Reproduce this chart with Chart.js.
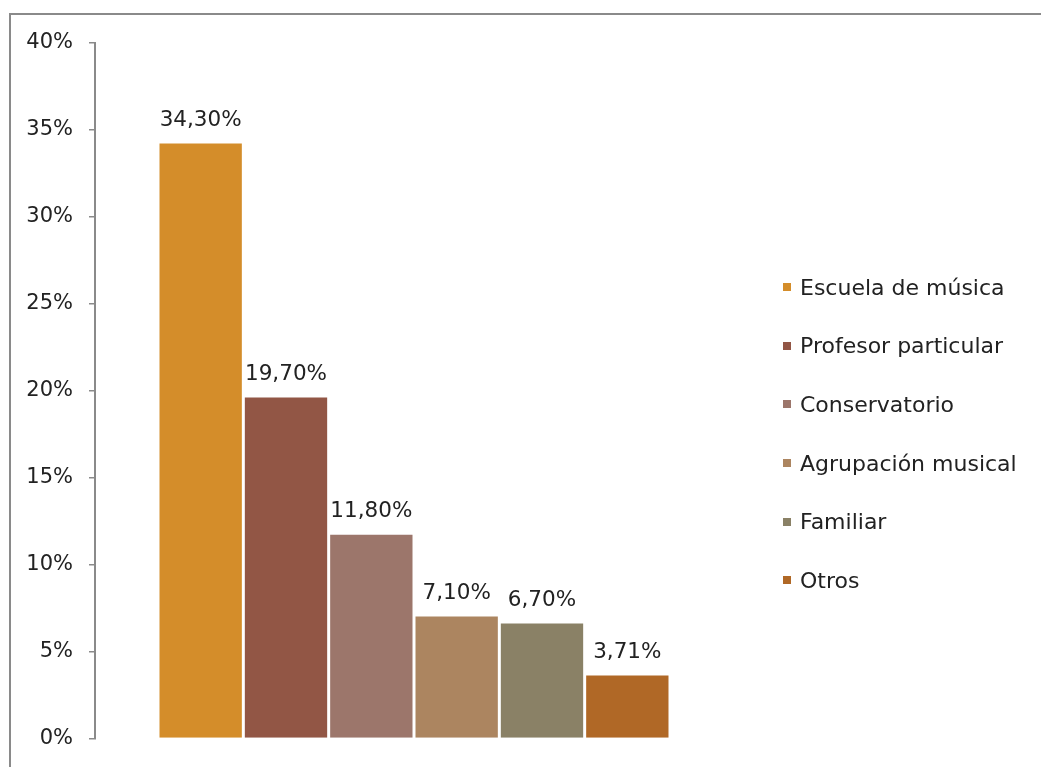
<!DOCTYPE html>
<html>
<head>
<meta charset="utf-8">
<title>Formación musical</title>
<script src="https://cdn.jsdelivr.net/npm/chart.js@4.4.1/dist/chart.umd.min.js"></script>
<style>
  html, body { margin: 0; padding: 0; background: #fff; overflow: hidden; }
  /* open frame: only top and left edges fall inside the window */
  #frame {
    position: absolute; left: 9px; top: 13px; width: 1200px; height: 900px;
    border-top: 2px solid #8a8a8a; border-left: 2px solid #8a8a8a;
  }
  #wrap { position: absolute; left: 0; top: 0; width: 1041px; height: 767px; }
  #legend {
    position: absolute; left: 783px; top: 258px; margin: 0; padding: 0; list-style: none;
    font-family: "DejaVu Sans", sans-serif; font-size: 22px; color: #222;
  }
  #legend li { display: flex; align-items: center; height: 58.6px; white-space: nowrap; }
  #legend .box { width: 8px; height: 8px; margin-right: 9px; flex: none; }
</style>
</head>
<body>
<div id="frame"></div>
<div id="wrap"><canvas id="barChart"></canvas></div>
<ul id="legend"></ul>
<script>
const categories = ["Escuela de música", "Profesor particular", "Conservatorio", "Agrupación musical", "Familiar", "Otros"];
const percentages = [34.30, 19.70, 11.80, 7.10, 6.70, 3.71];
const barColors = ["#d48d2a", "#925645", "#9c766b", "#ac8560", "#8a8166", "#b06826"];
const yMin = 0;
const yMax = 40;
const yStep = 5;

const textColor = "#222";
const axisColor = "#8a8a8a";
const fontFamily = '"DejaVu Sans", sans-serif';

Chart.defaults.font.family = fontFamily;

// 34.3 -> "34,30%"
const formatPct = (v) => v.toFixed(2).replace(".", ",") + "%";

// value printed above each bar
const valueLabels = {
  id: "valueLabels",
  afterDatasetsDraw(chart) {
    const ctx = chart.ctx;
    ctx.save();
    ctx.font = "21.5px " + fontFamily;
    ctx.fillStyle = textColor;
    ctx.textAlign = "center";
    ctx.textBaseline = "alphabetic";
    chart.data.datasets.forEach((ds, i) => {
      const bar = chart.getDatasetMeta(i).data[0];
      ctx.fillText(formatPct(ds.data[0]), bar.x, bar.y - 16);
    });
    ctx.restore();
  }
};

// legend list built from the chart's own legend items
const htmlLegend = {
  id: "htmlLegend",
  afterUpdate(chart) {
    const list = document.getElementById("legend");
    list.innerHTML = "";
    const items = chart.options.plugins.legend.labels.generateLabels(chart);
    items.forEach((item) => {
      const li = document.createElement("li");
      const box = document.createElement("span");
      box.className = "box";
      box.style.background = item.fillStyle;
      const text = document.createElement("span");
      text.textContent = item.text;
      li.appendChild(box);
      li.appendChild(text);
      list.appendChild(li);
    });
  }
};

const datasets = categories.map((name, i) => ({
  label: name,
  data: [percentages[i]],
  backgroundColor: barColors[i],
  borderColor: "#ffffff",
  borderWidth: 1.5
}));

const ctx = document.getElementById("barChart").getContext("2d");
new Chart(ctx, {
  type: "bar",
  data: { labels: [""], datasets },
  plugins: [valueLabels, htmlLegend],
  options: {
    responsive: true,
    maintainAspectRatio: false,
    animation: false,
    categoryPercentage: 0.8025,
    barPercentage: 1.0,
    layout: { padding: { left: 0, top: 43, right: 308, bottom: 24 } },
    scales: {
      x: { display: false },
      y: {
        min: yMin,
        max: yMax,
        ticks: {
          stepSize: yStep,
          padding: 16,
          color: textColor,
          font: { size: 21 },
          callback: (v) => v + "%"
        },
        grid: { display: true, drawOnChartArea: false, drawTicks: true, tickLength: 6, color: axisColor, lineWidth: 1.5 },
        border: { display: true, color: axisColor, width: 2 },
        afterFit: (axis) => { axis.width = 95; }
      }
    },
    plugins: {
      tooltip: { enabled: false },
      legend: { display: false }
    }
  }
});
</script>
</body>
</html>
